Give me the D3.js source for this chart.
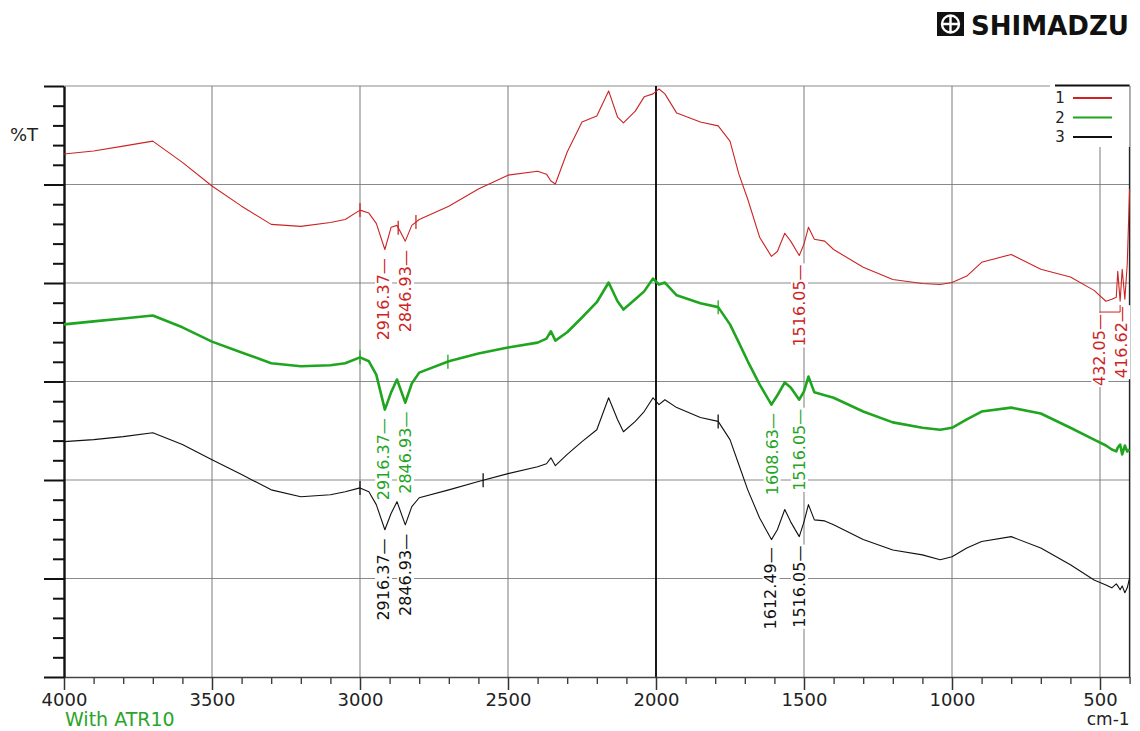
<!DOCTYPE html>
<html>
<head>
<meta charset="utf-8">
<script src="https://cdn.jsdelivr.net/npm/d3@7"></script>
<style>
  body { margin: 0; background: #fff; }
  text { font-family: "DejaVu Sans", Verdana, sans-serif; }
</style>
</head>
<body>
<div id="chart"></div>
<script>
// wavenumbers (cm-1) shared by all three spectra
const wavenumbers = [4000, 3900, 3800, 3700, 3600, 3500, 3400, 3300, 3200, 3100, 3050, 3000, 2970, 2945, 2916, 2895, 2875, 2847, 2825, 2800,
  2700, 2600, 2500, 2400, 2370, 2355, 2340, 2300, 2250, 2200, 2160, 2130, 2110, 2070, 2040, 2010, 1990, 1970, 1930, 1850,
  1790, 1750, 1720, 1690, 1650, 1610, 1590, 1565, 1545, 1516, 1500, 1485, 1465, 1430, 1400, 1300, 1200, 1100, 1040, 1000,
  950, 900, 800, 700, 600, 520, 480, 460, 445, 440, 432, 425, 416, 408, 400];

// %T, spectrum 1 (red)
const trans1 = [106.2, 106.8, 107.8, 108.8, 104.5, 99.7, 95.6, 91.9, 91.5, 92.3, 92.9, 94.8, 94.2, 92.1, 86.8, 91.3, 91.7, 88.5, 91.7, 92.9,
  95.6, 99.1, 101.9, 102.7, 102.1, 100.7, 100.1, 106.6, 112.7, 113.9, 119.0, 113.7, 112.5, 114.9, 117.8, 118.4, 119.4, 118.4, 114.5, 112.7,
  111.9, 108.8, 102.1, 97.0, 89.3, 85.4, 86.4, 90.1, 88.5, 85.6, 87.9, 91.3, 88.9, 88.5, 86.8, 83.2, 80.7, 79.9, 79.7, 80.1,
  81.4, 84.2, 85.8, 82.8, 81.2, 78.5, 76.3, 76.7, 77.1, 82.4, 76.3, 82.8, 76.7, 83.8, 99.1];

// %T, spectrum 2 (green)
const trans2 = [71.6, 72.2, 72.8, 73.4, 71.0, 68.1, 65.9, 63.7, 63.1, 63.3, 63.7, 64.9, 64.1, 61.4, 54.3, 57.8, 60.4, 55.7, 59.6, 61.8,
  64.1, 65.7, 66.9, 67.9, 68.7, 70.2, 68.3, 70.0, 73.0, 76.1, 80.1, 76.3, 74.6, 76.7, 78.3, 80.9, 79.7, 80.1, 77.5, 75.9,
  75.1, 71.6, 67.9, 64.1, 59.4, 55.3, 57.2, 59.8, 58.8, 56.3, 58.0, 61.0, 57.8, 57.2, 56.7, 53.9, 51.7, 50.6, 50.2, 50.6,
  52.3, 53.9, 54.7, 53.5, 50.6, 48.2, 47.0, 46.2, 45.8, 46.6, 47.2, 45.2, 47.0, 45.8, 46.2];

// %T, spectrum 3 (black)
const trans3 = [47.8, 48.2, 48.8, 49.6, 47.2, 44.1, 41.1, 38.0, 36.6, 37.0, 37.6, 38.4, 37.6, 35.0, 29.9, 33.2, 35.6, 30.9, 34.6, 36.4,
  38.0, 39.7, 41.3, 42.7, 43.3, 44.5, 42.9, 45.2, 47.8, 50.2, 56.7, 52.3, 49.8, 51.9, 53.9, 56.7, 55.3, 56.3, 54.7, 52.7,
  51.9, 48.2, 43.1, 38.0, 32.3, 27.9, 29.9, 34.0, 31.5, 28.5, 31.5, 35.0, 31.9, 31.7, 30.9, 27.9, 25.8, 24.8, 23.8, 24.4,
  26.2, 27.5, 28.5, 26.2, 22.8, 19.7, 18.7, 18.1, 18.9, 18.5, 17.7, 18.5, 17.1, 18.1, 20.1];

// picked peaks
const peaks1 = [2916.37, 2846.93, 1516.05, 432.05, 416.62];
const peaks2 = [2916.37, 2846.93, 1608.63, 1516.05];
const peaks3 = [2916.37, 2846.93, 1612.49, 1516.05];

// baseline marks on each trace
const marks1 = [3000, 2871, 2811];
const marks2 = [3000, 2703, 1790];
const marks3 = [3000, 2584, 1790];

const legendLabels = ["1", "2", "3"];
const xMajor = [4000, 3500, 3000, 2500, 2000, 1500, 1000, 500];

const width = 1140, height = 731;
const margin = {top: 86, right: 10.4, bottom: 54, left: 64};

const svg = d3.select("#chart").append("svg")
    .attr("width", width)
    .attr("height", height);

const x = d3.scaleLinear().domain([4000, 400]).range([margin.left, width - margin.right]);
const y = d3.scaleLinear().domain([0, 120]).range([height - margin.bottom, margin.top]);

const series = [
  {values: trans1, peaks: peaks1, marks: marks1, color: "#cc2424", width: 1.1},
  {values: trans2, peaks: peaks2, marks: marks2, color: "#1fa51f", width: 2.6},
  {values: trans3, peaks: peaks3, marks: marks3, color: "#111111", width: 1.1}
];

// value of a trace at any wavenumber (linear between samples)
function valueAt(values, w) {
  for (let i = 0; i < wavenumbers.length - 1; i++) {
    let a = wavenumbers[i], b = wavenumbers[i + 1];
    if (w <= a && w >= b) {
      let t = (a - w) / (a - b);
      return values[i] + t * (values[i + 1] - values[i]);
    }
  }
  return values[values.length - 1];
}

// grid
svg.append("g").selectAll("line")
  .data(d3.range(20, 121, 20))
  .enter().append("line")
  .attr("x1", x(4000)).attr("x2", x(400))
  .attr("y1", d => y(d)).attr("y2", d => y(d))
  .attr("stroke", "#8a8a8a").attr("stroke-width", 1);

svg.append("g").selectAll("line")
  .data(xMajor.slice(1))
  .enter().append("line")
  .attr("x1", d => x(d)).attr("x2", d => x(d))
  .attr("y1", y(120)).attr("y2", y(0))
  .attr("stroke", d => d === 2000 ? "#000" : "#7a7a7a")
  .attr("stroke-width", d => d === 2000 ? 1.8 : 1);

// right border
svg.append("line")
  .attr("x1", x(400)).attr("x2", x(400))
  .attr("y1", y(120)).attr("y2", y(0))
  .attr("stroke", "#222").attr("stroke-width", 1.5);

// bottom axis
const xAxisMinor = d3.axisBottom(x)
  .tickValues(d3.range(4000, 399, -100).filter(d => d % 500 !== 0))
  .tickSize(7).tickSizeOuter(0).tickFormat("");
const xAxisMajor = d3.axisBottom(x)
  .tickValues(xMajor)
  .tickSize(13).tickSizeOuter(0).tickPadding(3)
  .tickFormat(d3.format("d"));

svg.append("g")
  .attr("transform", "translate(0," + y(0) + ")")
  .call(xAxisMinor)
  .call(g => g.select(".domain").remove())
  .selectAll("line").attr("stroke", "#333").attr("stroke-width", 1.3);

const gx = svg.append("g")
  .attr("transform", "translate(0," + y(0) + ")")
  .call(xAxisMajor);
gx.select(".domain").attr("stroke", "#444").attr("stroke-width", 1.3);
gx.selectAll("line").attr("stroke", "#333").attr("stroke-width", 1.5);
gx.selectAll("text")
  .attr("font-family", "DejaVu Sans, Verdana, sans-serif")
  .attr("font-size", 18).attr("fill", "#222");

// left axis
const yAxisMinor = d3.axisLeft(y)
  .tickValues(d3.range(0, 121, 4).filter(d => d % 20 !== 0))
  .tickSize(11).tickSizeOuter(0).tickFormat("");
const yAxisMajor = d3.axisLeft(y)
  .tickValues(d3.range(0, 121, 20))
  .tickSize(20).tickSizeOuter(0).tickFormat("");

svg.append("g")
  .attr("transform", "translate(" + x(4000) + ",0)")
  .call(yAxisMinor)
  .call(g => g.select(".domain").remove())
  .selectAll("line").attr("stroke", "#111").attr("stroke-width", 2);

const gy = svg.append("g")
  .attr("transform", "translate(" + x(4000) + ",0)")
  .call(yAxisMajor);
gy.select(".domain").attr("stroke", "#111").attr("stroke-width", 2.4);
gy.selectAll("line").attr("stroke", "#111").attr("stroke-width", 2);

// spectra
const line = d3.line()
  .x((d, i) => x(wavenumbers[i]))
  .y(d => y(d));

series.forEach(s => {
  svg.append("path")
    .datum(s.values)
    .attr("fill", "none")
    .attr("stroke", s.color)
    .attr("stroke-width", s.width)
    .attr("stroke-linejoin", "round")
    .attr("d", line);

  svg.append("g").selectAll("line")
    .data(s.marks)
    .enter().append("line")
    .attr("x1", d => x(d)).attr("x2", d => x(d))
    .attr("y1", d => y(valueAt(s.values, d)) - 7)
    .attr("y2", d => y(valueAt(s.values, d)) + 7)
    .attr("stroke", s.color).attr("stroke-width", 1.3);
});

// legend
const legend = svg.append("g");
legend.append("rect")
  .attr("x", 1050).attr("y", y(120) - 1)
  .attr("width", x(400) - 1050).attr("height", 62)
  .attr("fill", "#fff");
legend.append("line")
  .attr("x1", 1055).attr("x2", x(400))
  .attr("y1", y(120) - 0.5).attr("y2", y(120) - 0.5)
  .attr("stroke", "#111").attr("stroke-width", 1.8);
legendLabels.forEach((lab, i) => {
  let ly = 98 + i * 19.5;
  legend.append("text")
    .attr("x", 1060).attr("y", ly + 5)
    .attr("text-anchor", "middle")
    .attr("font-family", "Liberation Serif, serif")
    .attr("font-size", 15).attr("fill", "#222")
    .text(lab);
  legend.append("line")
    .attr("x1", 1073).attr("x2", 1112)
    .attr("y1", ly).attr("y2", ly)
    .attr("stroke", series[i].color).attr("stroke-width", 1.8);
});

// peak labels
const fmt = d3.format(".2f");
series.forEach(s => {
  let list = s.peaks.map(w => ({w: w, px: x(w), py: y(valueAt(s.values, w))}))
    .sort((a, b) => b.px - a.px);
  let prev = x(400) - 8 + 22;
  list.forEach(p => {
    p.lx = Math.min(p.px, prev - 22);
    prev = p.lx;
  });
  list.forEach(p => {
    let top = p.py + 9;
    if (p.px - p.lx > 4) {
      svg.append("path")
        .attr("d", "M" + p.px + "," + (p.py + 4) + "V" + (top + 2) + "H" + p.lx)
        .attr("fill", "none").attr("stroke", s.color).attr("stroke-width", 1);
      top += 4;
    }
    let g = svg.append("g")
      .attr("transform", "translate(" + p.lx + "," + top + ") rotate(-90)");
    let t = g.append("text")
      .attr("text-anchor", "end")
      .attr("dy", "0.36em")
      .attr("font-size", 16)
      .attr("fill", s.color)
      .text(fmt(p.w) + "\u2014");
    let bb = t.node().getBBox();
    g.insert("rect", "text")
      .attr("x", bb.x - 1).attr("y", bb.y + 1)
      .attr("width", bb.width + 2).attr("height", bb.height - 2)
      .attr("fill", "#fff");
  });
});

// texts
svg.append("text")
  .attr("x", 10).attr("y", 141)
  .attr("font-size", 18).attr("fill", "#222")
  .text("%T");

svg.append("text")
  .attr("x", 65).attr("y", 726)
  .attr("font-size", 19).attr("fill", "#2aa52a")
  .text("With ATR10");

svg.append("text")
  .attr("x", x(400)).attr("y", 725)
  .attr("text-anchor", "end")
  .attr("font-size", 17).attr("fill", "#222")
  .text("cm-1");

// maker logo
const logo = svg.append("g");
logo.append("rect")
  .attr("x", 937).attr("y", 12).attr("width", 27).attr("height", 24)
  .attr("fill", "#111");
logo.append("circle")
  .attr("cx", 950.5).attr("cy", 24).attr("r", 8.5)
  .attr("fill", "none").attr("stroke", "#fff").attr("stroke-width", 2.4);
logo.append("path")
  .attr("d", "M942,24H959M950.5,15.5V32.5")
  .attr("stroke", "#fff").attr("stroke-width", 2.4);
logo.append("text")
  .attr("x", 971).attr("y", 35)
  .attr("font-family", "DejaVu Sans, sans-serif")
  .attr("font-weight", "bold")
  .attr("font-size", 27)
  .attr("textLength", 158)
  .attr("lengthAdjust", "spacingAndGlyphs")
  .attr("fill", "#111")
  .text("SHIMADZU");
</script>
</body>
</html>
